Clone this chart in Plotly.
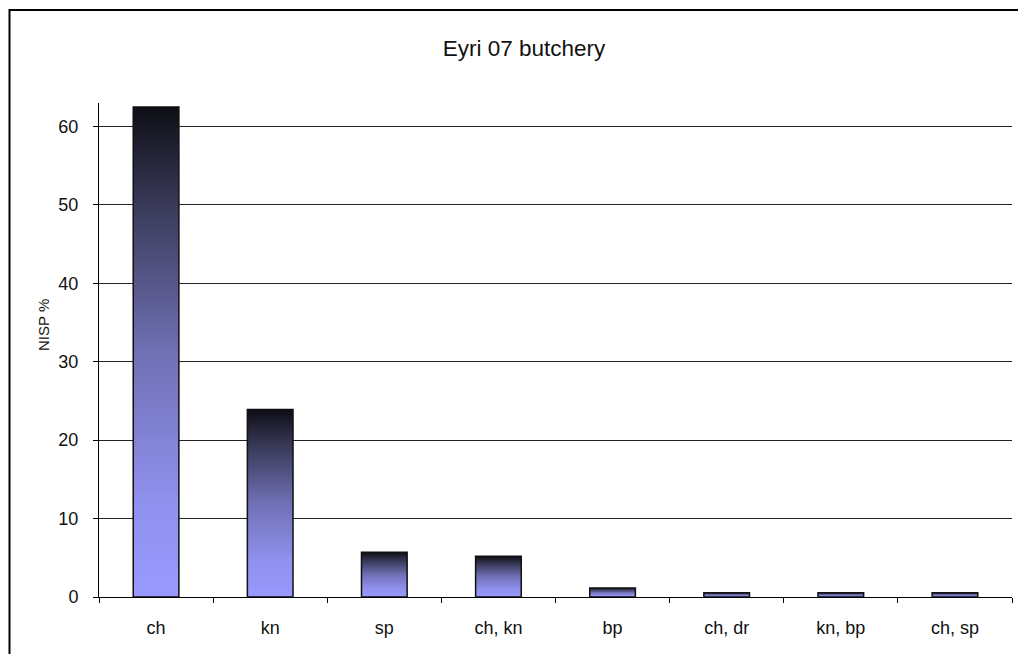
import plotly.graph_objects as go

# ---- data ----
categories = ["ch", "kn", "sp", "ch, kn", "bp", "ch, dr", "kn, bp", "ch, sp"]
nisp_pct = [62.5, 23.9, 5.7, 5.2, 1.15, 0.55, 0.55, 0.55]
y_ticks = [0, 10, 20, 30, 40, 50, 60]

title_text = "Eyri 07 butchery"
y_title = "NISP %"

# ---- style ----
W, H = 1018, 654
L, R, T, B = 99, 6, 103, 57
PW, PH = W - L - R, H - T - B
BAR_W = 0.4
gradient = [[0.0, "#9999ff"], [0.2, "#9090ee"], [0.5, "#7070b5"],
            [0.8, "#3a3a5a"], [1.0, "#0e0e16"]]
FONT = "Liberation Sans, Arial, sans-serif"

fig = go.Figure()
for i, (cat, v) in enumerate(zip(categories, nisp_pct)):
    x0, x1 = i - BAR_W / 2, i + BAR_W / 2
    fig.add_trace(go.Scatter(
        x=[x0, x0, x1, x1, x0], y=[0, v, v, 0, 0],
        mode="lines", fill="toself",
        fillgradient=dict(type="vertical", colorscale=gradient),
        line=dict(color="#111111", width=1.5),
        name=cat, hoverinfo="skip", showlegend=False,
    ))

idx = list(range(len(categories)))
bounds = [i - 0.5 for i in range(len(categories) + 1)]

fig.update_layout(
    width=W, height=H,
    margin=dict(l=L, r=R, t=T, b=B),
    paper_bgcolor="white", plot_bgcolor="white",
    font=dict(family=FONT, size=18, color="#111111"),
    showlegend=False,
    title=dict(text=title_text, x=524 / W, xanchor="center", xref="paper" if False else "container",
               y=1 - 48 / H, yanchor="middle", font=dict(size=22.5, family=FONT, color="#111111")),
    xaxis=dict(
        range=[-0.5, len(categories) - 0.5],
        tickmode="array", tickvals=idx, ticktext=categories,
        ticks="", showgrid=False, zeroline=False,
        showline=True, linecolor="black", linewidth=1,
        ticklabelstandoff=14,
        minor=dict(tickmode="array", tickvals=bounds, ticks="outside",
                   ticklen=5, tickcolor="black", tickwidth=1, showgrid=False),
        fixedrange=True,
    ),
    yaxis=dict(
        range=[0, 63],
        tickmode="array", tickvals=y_ticks,
        ticks="outside", ticklen=5, tickcolor="black", tickwidth=1,
        showgrid=True, gridcolor="#222222", gridwidth=1,
        zeroline=False, showline=True, linecolor="black", linewidth=1,
        ticklabelstandoff=11,
        fixedrange=True,
    ),
    annotations=[dict(
        text=y_title, textangle=-90, xref="paper", yref="paper",
        x=(43 - L) / PW, y=(H - B - 325) / PH, xanchor="center", yanchor="middle",
        showarrow=False, font=dict(size=15, family=FONT, color="#111111"),
    )],
    shapes=[dict(
        type="rect", xref="paper", yref="paper",
        x0=(9.5 - L) / PW, x1=1.2, y0=-0.5, y1=(H - B - 10) / PH,
        line=dict(color="black", width=2), fillcolor="rgba(0,0,0,0)", layer="above",
    )],
)

fig.write_html("out.html")
